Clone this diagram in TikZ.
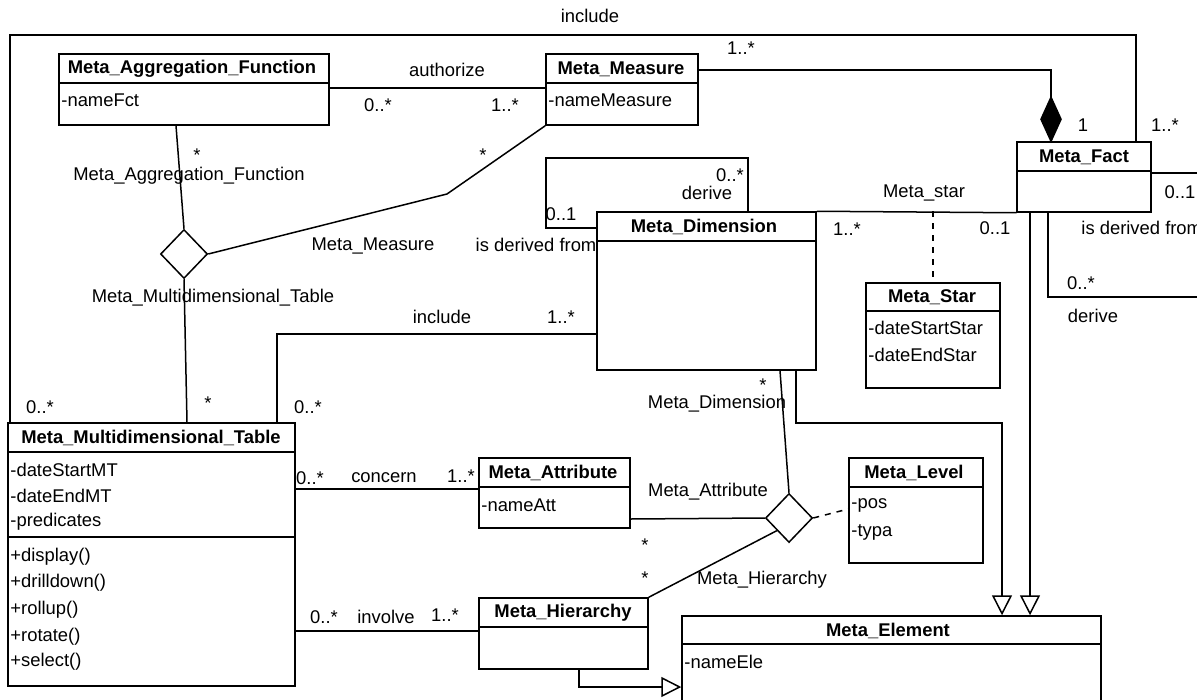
\documentclass[tikz,border=0pt]{standalone}
\usepackage{fontspec}
\setmainfont{Liberation Sans}
\usetikzlibrary{shapes.geometric,arrows.meta,fit,calc}
\newcommand\umlcls[6]{\node[cls, fit={(#2,#3)(#4,#5)}] (#1) {};\draw[ln] (#2,#6) -- (#4,#6);}
\begin{document}
\begin{tikzpicture}[x=0.5pt,y=-0.5pt,
  every node/.style={font=\fontsize{9.2}{11}\selectfont},
  cls/.style={draw, line width=0.75pt, inner sep=0pt},
  ttl/.style={font=\fontsize{9.2}{11}\selectfont\bfseries, inner sep=0pt},
  att/.style={anchor=west, inner sep=0pt},
  lbl/.style={inner sep=0pt},
  ln/.style={line width=0.75pt},
  dsh/.style={ln, dash pattern=on 3pt off 3pt},
  gen/.style={ln, -{Triangle[open,length=10pt,width=10pt]}},
  assoc/.style={draw, diamond, aspect=1, inner sep=0pt, minimum width=23.5pt, minimum height=24.5pt, line width=0.75pt},
]
\useasboundingbox (0,0) rectangle (1197,700);
\clip (0,0) rectangle (1197,700);

% classes
\umlcls{maf}{59}{54}{329}{125}{83}
\node[ttl] (maf-t) at (192,69) {Meta\_Aggregation\_Function};
\node[att] (maf-a) at (61,100) {-nameFct};

\umlcls{mm}{546}{54}{698}{125}{83}
\node[ttl] (mm-t) at (621,69) {Meta\_Measure};
\node[att] (mm-a) at (548,100) {-nameMeasure};

\umlcls{mf}{1017}{142}{1151}{212}{171}
\node[ttl] (mf-t) at (1084,157) {Meta\_Fact};

\umlcls{md}{597}{212}{816}{370}{241}
\node[ttl] (md-t) at (704,227) {Meta\_Dimension};

\umlcls{ms}{866}{283}{1000}{388}{311}
\node[ttl] (ms-t) at (932,297) {Meta\_Star};
\node[att] (ms-a1) at (868,328) {-dateStartStar};
\node[att] (ms-a2) at (868,355) {-dateEndStar};

\umlcls{mmt}{8}{423}{295}{686}{452}
\draw[ln] (8,537) -- (295,537);
\node[ttl] (mmt-t) at (151,438) {Meta\_Multidimensional\_Table};
\node[att] (mmt-a1) at (10,470) {-dateStartMT};
\node[att] (mmt-a2) at (10,496) {-dateEndMT};
\node[att] (mmt-a3) at (10,522) {-predicates};
\node[att] (mmt-m1) at (10,557) {+display()};
\node[att] (mmt-m2) at (10,583) {+drilldown()};
\node[att] (mmt-m3) at (10,610) {+rollup()};
\node[att] (mmt-m4) at (10,637) {+rotate()};
\node[att] (mmt-m5) at (10,662) {+select()};

\umlcls{ma}{479}{458}{630}{528}{487}
\node[ttl] (ma-t) at (553,473) {Meta\_Attribute};
\node[att] (ma-a) at (481,505) {-nameAtt};

\umlcls{ml}{849}{458}{983}{563}{487}
\node[ttl] (ml-t) at (914,473) {Meta\_Level};
\node[att] (ml-a1) at (851,505) {-pos};
\node[att] (ml-a2) at (851,532) {-typa};

\umlcls{mh}{479}{598}{648}{669}{627}
\node[ttl] (mh-t) at (563,613) {Meta\_Hierarchy};

\umlcls{me}{682}{616}{1101}{720}{644}
\node[ttl] (me-t) at (888,631) {Meta\_Element};
\node[att] (me-a) at (684,662) {-nameEle};

% n-ary association diamonds
\node[assoc] (d1) at (184,254) {};
\node[assoc] (d2) at (789,518) {};

% outer include
\draw[ln] (mmt.north -| 10,0) -- (10,35) -- (1136,35) -- (mf.north -| 1136,0);
\node[lbl] at (590,16) {include};
\node[lbl] at (1165,125) {1..*};
\node[lbl] at (40,407) {0..*};

% authorize
\draw[ln] (maf.east |- 0,88) -- (mm.west |- 0,88);
\node[lbl] at (447,70) {authorize};
\node[lbl] at (378,105) {0..*};
\node[lbl] at (505,105) {1..*};

% composition measure - fact
\coordinate (ctip) at (mf.north -| 1051,0);
\draw[ln, fill=black] (ctip) -- ++(10,-22) -- ++(-10,-22) coordinate (ctop) -- ++(-10,22) -- cycle;
\draw[ln] (mm.east |- 0,70) -- (1051,70) -- (ctop);
\node[lbl] at (741,48) {1..*};
\node[lbl] at (1083,125) {1};

% diamond d1
\draw[ln] (maf.south -| 176,0) -- (d1.north);
\draw[ln] (mm.south west) -- (447,194) -- (d1.east);
\draw[ln] (d1.south) -- (mmt.north -| 187,0);
\node[lbl] at (197,155) {*};
\node[lbl] at (189,176) {Meta\_Aggregation\_Function};
\node[lbl] at (483,155) {*};
\node[lbl] at (373,246) {Meta\_Measure};
\node[lbl] at (213,298) {Meta\_Multidimensional\_Table};
\node[lbl] at (208,403) {*};
\node[lbl] at (308,407) {0..*};

% include MMT - MD
\draw[ln] (mmt.north -| 277,0) -- (277,334) -- (md.west |- 0,334);
\node[lbl] at (442,317) {include};
\node[lbl] at (561,317) {1..*};

% MD self loop
\draw[ln] (md.north -| 748,0) -- (748,158) -- (546,158) -- (546,228) -- (md.west |- 0,228);
\node[lbl] at (730,175) {0..*};
\node[lbl] at (707,193) {derive};
\node[lbl] at (561,214) {0..1};
\node[lbl] at (536,245) {is derived from};

% Meta_star
\draw[ln] (md.north east) -- (mf.south west);
\draw[dsh] (ms.north |- md.north) -- (ms.north);
\node[lbl] at (924,193) {Meta\_star};
\node[lbl] at (847,229) {1..*};
\node[lbl] at (995,228) {0..1};

% MF self loop
\draw[ln] (mf.east |- 0,173) -- (1210,173);
\draw[ln] (mf.south -| 1048,0) -- (1048,297) -- (1210,297);
\node[lbl] at (1180,192) {0..1};
\node[lbl, anchor=west] at (1081,228) {is derived from};
\node[lbl] at (1081,283) {0..*};
\node[lbl] at (1093,316) {derive};

% generalizations
\draw[gen] (mf.south -| 1030,0) -- (me.north -| 1030,0);
\draw[gen] (md.south -| 796,0) -- (796,423) -- (1002,423) -- (me.north -| 1002,0);
\draw[gen] (mh.south -| 579,0) -- (579,687) -- (me.west |- 0,687);

% diamond d2
\draw[ln] (md.south -| 780,0) -- (d2.north);
\draw[ln] (ma.east |- 0,519) -- (d2.west);
\draw[dsh] (d2.east) -- (ml.west |- 0,509);
\draw[ln] (d2.south west) -- (mh.north east);
\node[lbl] at (763,385) {*};
\node[lbl] at (717,404) {Meta\_Dimension};
\node[lbl] at (708,492) {Meta\_Attribute};
\node[lbl] at (645,545) {*};
\node[lbl] at (645,578) {*};
\node[lbl] at (762,580) {Meta\_Hierarchy};

% concern
\draw[ln] (mmt.east |- 0,489) -- (ma.west |- 0,489);
\node[lbl] at (310,478) {0..*};
\node[lbl] at (384,478) {concern};
\node[lbl] at (461,476) {1..*};

% involve
\draw[ln] (mmt.east |- 0,631) -- (mh.west |- 0,631);
\node[lbl] at (324,617) {0..*};
\node[lbl] at (386,617) {involve};
\node[lbl] at (445,615) {1..*};
\end{tikzpicture}
\end{document}
